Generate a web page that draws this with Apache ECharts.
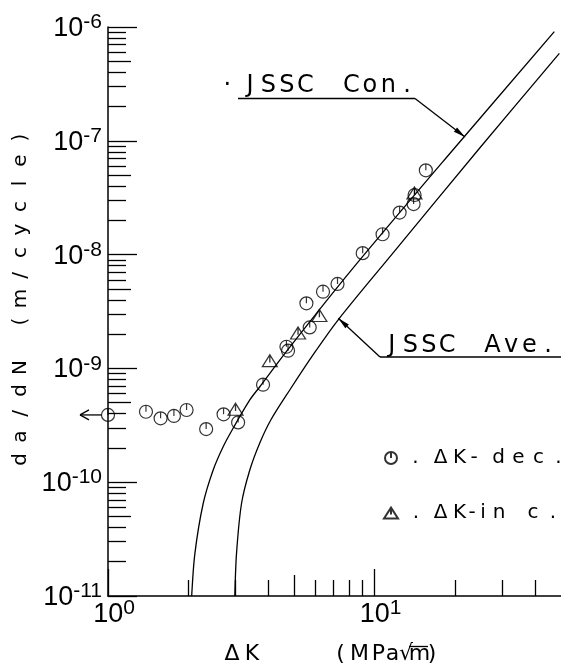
<!DOCTYPE html>
<html><head><meta charset="utf-8">
<script src="https://cdn.jsdelivr.net/npm/echarts@6/dist/echarts.min.js"></script>
<style>html,body{margin:0;padding:0;background:#fff}#c{width:561px;height:670px}</style>
</head><body><div id="c"></div>
<script>
// ---------------- data ----------------
const conK    = [2.06, 2.118, 2.275, 2.48, 2.703, 2.946, 3.403, 3.709, 4.735, 8.18, 19.65, 47.2];
const conRate = [1.0e-11, 2.37e-11, 6.5e-11, 1.28e-10, 2.05e-10, 2.98e-10, 5.28e-10, 6.9e-10, 1.47e-9, 7.3e-9, 8.3e-8, 9.1e-7];
const aveK    = [2.99, 3.034, 3.168, 3.403, 3.709, 4.079, 4.805, 5.908, 7.289, 11.71, 24.74, 49.3];
const aveRate = [1.0e-11, 2.37e-11, 6.5e-11, 1.28e-10, 2.21e-10, 3.52e-10, 6.46e-10, 1.34e-9, 2.66e-9, 1.03e-8, 8.6e-8, 5.87e-7];
const decK    = [1.0, 1.388, 1.575, 1.767, 1.971, 2.334, 2.713, 3.076, 3.815, 4.669, 4.734, 5.708, 5.548, 6.403, 7.257, 9.02, 10.71, 12.41, 14.12, 14.0, 15.56];
const decRate = [3.9e-10, 4.16e-10, 3.64e-10, 3.82e-10, 4.31e-10, 2.93e-10, 3.95e-10, 3.35e-10, 7.19e-10, 1.55e-9, 1.43e-9, 2.29e-9, 3.73e-9, 4.72e-9, 5.52e-9, 1.03e-8, 1.51e-8, 2.34e-8, 3.34e-8, 2.78e-8, 5.5e-8];
const incK    = [3.008, 4.045, 5.161, 6.206, 14.1];
const incRate = [4.37e-10, 1.17e-9, 2.05e-9, 2.92e-9, 3.48e-8];
const xRange = [1, 50];
const yRange = [1e-11, 1e-6];
const xLabelValues = [1, 10];
const xMajorTicks = [1, 10];
const xMidTicks = [5];
const xMinorTicks = [2, 3, 4, 6, 7, 8, 9, 20, 30, 40];
const yLabelValues = [1e-11, 1e-10, 1e-9, 1e-8, 1e-7, 1e-6];
const yDecades = [-11, -10, -9, -8, -7];
const yMidMult = [5];
const yMinorMult = [2, 3, 4, 6, 7, 8, 9];
const seriesNames = ['ΔK-dec.', 'ΔK-inc.'];
const curveNames = ['JSSC Con.', 'JSSC Ave.'];
const yTitle = 'da/dN (m/cycle)';

// ---------------- helpers ----------------
const L = v => Math.log10(v);
const yMajorTicks = yLabelValues;
const yMidTicks = yDecades.flatMap(d => yMidMult.map(m => m * Math.pow(10, d)));
const yMinorTicks = yDecades.flatMap(d => yMinorMult.map(m => m * Math.pow(10, d)));
const BLACK = '#000';
const TICKFONT = "'Liberation Sans','DejaVu Sans',sans-serif";
const TXTFONT = "'DejaVu Sans','Liberation Sans',sans-serif";

function spaced(pairs, base) {
  const rich = {}; let text = '';
  pairs.forEach(([t, w], i) => {
    const k = 't' + i;
    rich[k] = Object.assign({ width: w, align: 'center', color: BLACK, fill: BLACK }, base);
    text += '{' + k + '|' + t + '}';
  });
  return { text, rich };
}
const tickRich = {
  p: { width: 12, fontSize: 27, fontFamily: TICKFONT, color: BLACK },
  b: { fontSize: 27, fontFamily: TICKFONT, color: BLACK, verticalAlign: 'bottom', lineHeight: 30 },
  s: { fontSize: 21, fontFamily: TICKFONT, color: BLACK, verticalAlign: 'top', lineHeight: 22 }
};

function xAx(ticks, len, main) {
  return {
    type: 'value', gridIndex: 0, position: 'bottom', min: L(xRange[0]), max: L(xRange[1]),
    axisLine: { show: main, onZero: false, lineStyle: { color: BLACK, width: 1.5 } },
    axisTick: { show: true, inside: true, length: len, customValues: ticks.map(L), lineStyle: { color: BLACK, width: 1.3 } },
    axisLabel: main ? { show: true, customValues: xLabelValues.map(L), margin: 2,
      formatter: v => '{p| }{b|10}{s|' + Math.round(v) + '}', rich: tickRich } : { show: false },
    splitLine: { show: false }
  };
}
function yAx(ticks, len, main) {
  return {
    type: 'value', gridIndex: 0, position: 'left', min: L(yRange[0]), max: L(yRange[1]),
    axisLine: { show: main, onZero: false, lineStyle: { color: BLACK, width: 1.5 } },
    axisTick: { show: true, inside: true, length: len, customValues: ticks.map(L), lineStyle: { color: BLACK, width: 1.3 } },
    axisLabel: main ? { show: true, customValues: yLabelValues.map(L), margin: 6,
      formatter: v => '{b|10}{s|' + Math.round(v) + '}', rich: tickRich } : { show: false },
    splitLine: { show: false }
  };
}

const xAxes = [xAx(xMajorTicks, 27, true), xAx(xMidTicks, 21, false), xAx(xMinorTicks, 16, false)];
const yAxes = [yAx(yMajorTicks, 29, true), yAx(yMidTicks, 23, false), yAx(yMinorTicks, 18, false)];

// y axis title (spaced characters)
const yT = spaced([[' ', 26]].concat(yTitle.split('').map(c => [c, 23])), { fontSize: 20, fontFamily: TXTFONT });
yAxes[0].name = yT.text;
yAxes[0].nameLocation = 'middle';
yAxes[0].nameGap = 75;
yAxes[0].nameRotate = 90;
yAxes[0].nameTextStyle = { rich: yT.rich };

// x axis title
const xT = spaced([['Δ', 21], ['K', 19], [' ', 72], ['(', 14], ['M', 24], ['P', 14], ['a', 14], ['√', 13], ['m', 14], [')', 11], [' ', 10]],
  { fontSize: 22, fontFamily: TXTFONT });
xAxes[0].name = xT.text;
xAxes[0].nameLocation = 'middle';
xAxes[0].nameGap = 47;
xAxes[0].nameTextStyle = { rich: xT.rich };

const circPath = 'path://M0,-10A10,10,0,1,1,0,10A10,10,0,1,1,0,-10ZM0,-10L0,0';
const triPath = 'path://M0,-9L11,8L-11,8ZM0,-9L0,2';
const toPts = (ks, rs) => ks.map((k, i) => [L(k), L(rs[i])]);

const legDec = spaced([['.', 27], ['Δ', 23], ['K', 15], ['-', 14], [' ', 7.5], ['d', 20], ['e', 20], ['c', 20], ['.', 20]],
  { fontSize: 20, fontFamily: TXTFONT, lineHeight: 20 });
const legInc = spaced([['.', 26], ['Δ', 23], ['K', 15], ['-', 10], ['i', 12], ['n', 20], [' ', 14], ['c', 20], ['.', 20]],
  { fontSize: 20, fontFamily: TXTFONT, lineHeight: 20 });

const chart = echarts.init(document.getElementById('c'), null, { renderer: 'canvas' });
chart.setOption({
  animation: false,
  backgroundColor: '#fff',
  grid: { left: 108, top: 27, width: 453.6, height: 569 },
  xAxis: xAxes,
  yAxis: yAxes,
  legend: [
    { data: [seriesNames[0]], left: 384, top: 448, padding: 0, itemWidth: 12, itemHeight: 12, selectedMode: false,
      formatter: () => legDec.text, textStyle: { rich: legDec.rich } },
    { data: [seriesNames[1]], left: 383, top: 503, padding: 0, itemWidth: 14, itemHeight: 12, selectedMode: false,
      formatter: () => legInc.text, textStyle: { rich: legInc.rich } }
  ],
  series: [
    { type: 'line', name: curveNames[0], data: toPts(conK, conRate), showSymbol: false, smooth: 0.3, silent: true,
      lineStyle: { color: BLACK, width: 1.3 }, clip: true },
    { type: 'line', name: curveNames[1], data: toPts(aveK, aveRate), showSymbol: false, smooth: 0.3, silent: true,
      lineStyle: { color: BLACK, width: 1.3 }, clip: true },
    { type: 'scatter', name: seriesNames[0], data: toPts(decK, decRate), symbol: circPath, symbolSize: 13, silent: true,
      itemStyle: { color: 'rgba(255,255,255,0)', borderColor: BLACK, borderWidth: 1.2 } },
    { type: 'scatter', name: seriesNames[1], data: toPts(incK, incRate), symbol: triPath, symbolSize: [15, 12], silent: true,
      itemStyle: { color: 'rgba(255,255,255,0)', borderColor: BLACK, borderWidth: 1.2 } }
  ]
});

// annotations
const conLbl = spaced([['·', 27], ['J', 18.5], ['S', 18.5], ['S', 18.5], ['C', 18.5], [' ', 27.5], ['C', 18.5], ['o', 18.5], ['n', 18.5], ['.', 18.5]],
  { fontSize: 24, fontFamily: TXTFONT });
const aveLbl = spaced([['J', 18.5], ['S', 18.5], ['S', 18.5], ['C', 18.5], [' ', 26.75], ['A', 18.5], ['v', 18.5], ['e', 18.5], ['.', 18.5]],
  { fontSize: 24, fontFamily: TXTFONT });
const ln = (x1, y1, x2, y2) => ({ type: 'line', shape: { x1, y1, x2, y2 }, style: { stroke: BLACK, lineWidth: 1.3 }, silent: true });
function head(tx, ty, fx, fy, len, hw) {
  const dx = tx - fx, dy = ty - fy, d = Math.hypot(dx, dy), ux = dx / d, uy = dy / d;
  const bx = tx - ux * len, by = ty - uy * len;
  return { type: 'polygon', shape: { points: [[tx, ty], [bx - uy * hw, by + ux * hw], [bx + uy * hw, by - ux * hw]] }, style: { fill: BLACK }, silent: true };
}
const p0 = chart.convertToPixel({ xAxisIndex: 0, yAxisIndex: 0 }, [L(decK[0]), L(decRate[0])]);
chart.setOption({
  graphic: [
    { type: 'text', x: 213.7, y: 86, silent: true, style: { text: conLbl.text, rich: conLbl.rich, fill: BLACK, align: 'left', verticalAlign: 'middle' } },
    ln(238, 98.5, 415, 98.5), ln(415, 98.5, 465, 137), head(465, 137, 415, 98.5, 12, 2.6),
    { type: 'text', x: 382.5, y: 346, silent: true, style: { text: aveLbl.text, rich: aveLbl.rich, fill: BLACK, align: 'left', verticalAlign: 'middle' } },
    ln(380, 357, 561, 357), ln(380, 357, 338.3, 318.3), head(338.3, 318.3, 380, 357, 12, 2.6),
    ln(p0[0] - 6.5, p0[1], p0[0] - 28, p0[1]), ln(p0[0] - 28, p0[1], p0[0] - 19, p0[1] - 5), ln(p0[0] - 28, p0[1], p0[0] - 19, p0[1] + 5),
    ln(409, 646.5, 428, 646.5)
  ]
});
</script></body></html>
